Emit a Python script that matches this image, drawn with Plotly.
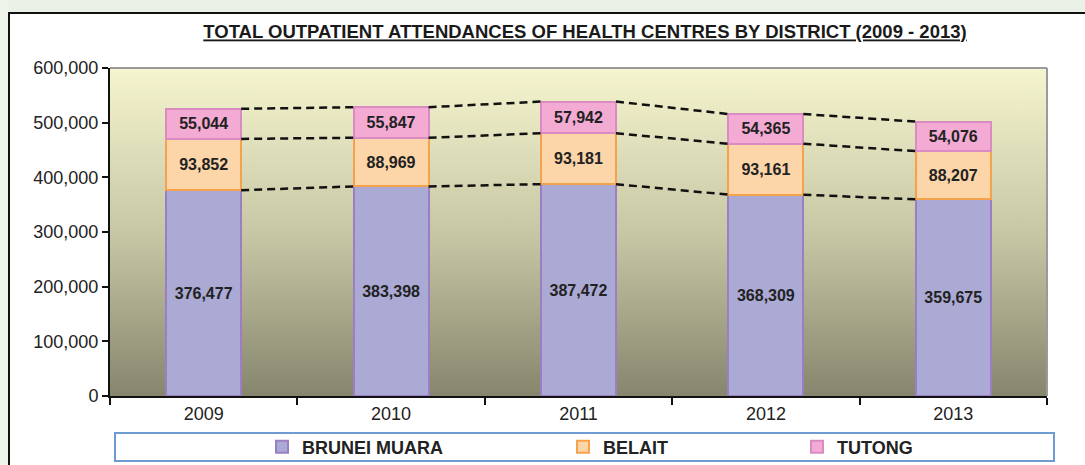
import base64
import plotly.graph_objects as go

# ---------------- data ----------------
years = ["2009", "2010", "2011", "2012", "2013"]
series_names = ["BRUNEI MUARA", "BELAIT", "TUTONG"]
brunei_muara = [376477, 383398, 387472, 368309, 359675]
belait = [93852, 88969, 93181, 93161, 88207]
tutong = [55044, 55847, 57942, 54365, 54076]
y_ticks = [0, 100000, 200000, 300000, 400000, 500000, 600000]
title_text = "TOTAL OUTPATIENT ATTENDANCES OF HEALTH CENTRES BY DISTRICT (2009 - 2013)"

# ---------------- styles ----------------
fills = ["#abaad4", "#fcd5a8", "#f3abd3"]
edges = ["#9a80c2", "#f5a24e", "#da8cc2"]
W, H = 1085, 465
ML, MR, MT, MB = 110, 38, 68, 69
PW, PH = W - ML - MR, H - MT - MB
BARGAP = 0.6
HALF = (1 - BARGAP) / 2


def px(xp):
    return (xp - ML) / PW


def py(yp):
    return (H - MB - yp) / PH


fig = go.Figure()
all_series = [brunei_muara, belait, tutong]
legends = ["legend", "legend2", "legend3"]
for name, vals, fc, ec, lg in zip(series_names, all_series, fills, edges, legends):
    fig.add_trace(go.Bar(
        x=years, y=vals, name=name,
        marker=dict(color=fc, line=dict(color=ec, width=2)),
        texttemplate="%{y:,}", textposition="inside", insidetextanchor="middle",
        textfont=dict(family="Liberation Sans, Arial", size=16, color="#222222", weight="bold"),
        constraintext="none",
        legend=lg, hoverinfo="skip",
    ))

# dashed series lines connecting the tops of each stacked segment
cum = [0] * len(years)
for vals in all_series:
    cum = [c + v for c, v in zip(cum, vals)]
    xs, ys = [], []
    for i in range(len(years) - 1):
        xs += [i + HALF, i + 1 - HALF, None]
        ys += [cum[i], cum[i + 1], None]
    fig.add_trace(go.Scatter(
        x=xs, y=ys, xaxis="x2", yaxis="y", mode="lines",
        line=dict(color="#111111", width=2.5, dash="8px,5px"),
        showlegend=False, hoverinfo="skip",
    ))

# gradient background for plot area
svg = ('<svg xmlns="http://www.w3.org/2000/svg" viewBox="0 0 10 10" preserveAspectRatio="none">'
       '<defs><linearGradient id="g" x1="0" y1="0" x2="0" y2="1">'
       '<stop offset="0" stop-color="#f5f5cf"/>'
       '<stop offset="0.5" stop-color="#c8c7a5"/>'
       '<stop offset="1" stop-color="#86866e"/>'
       '</linearGradient></defs>'
       '<rect width="10" height="10" fill="url(#g)"/></svg>')
img_src = "data:image/svg+xml;base64," + base64.b64encode(svg.encode()).decode()

tickfont = dict(family="Liberation Sans, Arial", size=18, color="#222222")
legfont = dict(family="Liberation Sans, Arial", size=18, color="#222222", weight="bold")

shapes = [
    # outer greenish strips
    dict(type="rect", xref="paper", yref="paper", x0=px(-2), x1=px(W + 2), y0=py(12), y1=py(-2),
         fillcolor="#eaf1e6", line=dict(width=0), layer="below"),
    dict(type="rect", xref="paper", yref="paper", x0=px(-2), x1=px(8), y0=py(H + 2), y1=py(-2),
         fillcolor="#eef4ea", line=dict(width=0), layer="below"),
    # panel border
    dict(type="line", xref="paper", yref="paper", x0=px(8), x1=px(W + 2), y0=py(13), y1=py(13),
         line=dict(color="#111111", width=2), layer="above"),
    dict(type="line", xref="paper", yref="paper", x0=px(9), x1=px(9), y0=py(12), y1=py(H + 2),
         line=dict(color="#111111", width=2), layer="above"),
    # plot area top / right border
    dict(type="line", xref="paper", yref="paper", x0=0, x1=1, y0=1, y1=1,
         line=dict(color="#9a9a9a", width=2), layer="above"),
    dict(type="line", xref="paper", yref="paper", x0=1, x1=1, y0=0, y1=1,
         line=dict(color="#9a9a9a", width=2), layer="above"),
    # legend box
    dict(type="rect", xref="paper", yref="paper", x0=px(115), x1=px(1054), y0=py(461), y1=py(433),
         fillcolor="rgba(0,0,0,0)", line=dict(color="#6d9bd2", width=2), layer="above"),
]

leg_common = dict(orientation="h", yanchor="middle", y=py(447), xanchor="left",
                  bgcolor="rgba(0,0,0,0)", font=legfont, borderwidth=0)

fig.update_layout(
    width=W, height=H,
    margin=dict(l=ML, r=MR, t=MT, b=MB, pad=0, autoexpand=False),
    paper_bgcolor="#ffffff", plot_bgcolor="rgba(0,0,0,0)",
    barmode="stack", bargap=BARGAP,
    title=dict(text=title_text, x=px(585), xanchor="center", xref="paper",
               y=1 - 32 / H, yanchor="middle",
               font=dict(family="Liberation Sans, Arial", size=18.5, color="#1a1a1a",
                         weight="bold", lineposition="under")),
    xaxis=dict(type="category", tickson="boundaries", ticks="outside", ticklen=7, tickwidth=2,
               tickcolor="#111111", showline=True, linecolor="#111111", linewidth=2,
               showgrid=False, tickfont=tickfont, range=[-0.5, len(years) - 0.5]),
    xaxis2=dict(overlaying="x", range=[-0.5, len(years) - 0.5], visible=False),
    yaxis=dict(range=[0, 600000], tickvals=y_ticks, tickformat=",", ticks="outside", ticklen=6,
               tickwidth=2, tickcolor="#111111", showline=True, linecolor="#111111", linewidth=2,
               showgrid=False, zeroline=False, tickfont=tickfont),
    images=[dict(source=img_src, xref="paper", yref="paper", x=0, y=1, sizex=1, sizey=1,
                 xanchor="left", yanchor="top", sizing="stretch", layer="below")],
    shapes=shapes,
    legend=dict(x=px(262), **leg_common),
    legend2=dict(x=px(563), **leg_common),
    legend3=dict(x=px(797), **leg_common),
    showlegend=True,
)

fig.write_html(
    "out.html",
    config={"displayModeBar": False},
    post_script="document.body.style.margin='0';document.body.style.background='#eaf1e6';",
)
